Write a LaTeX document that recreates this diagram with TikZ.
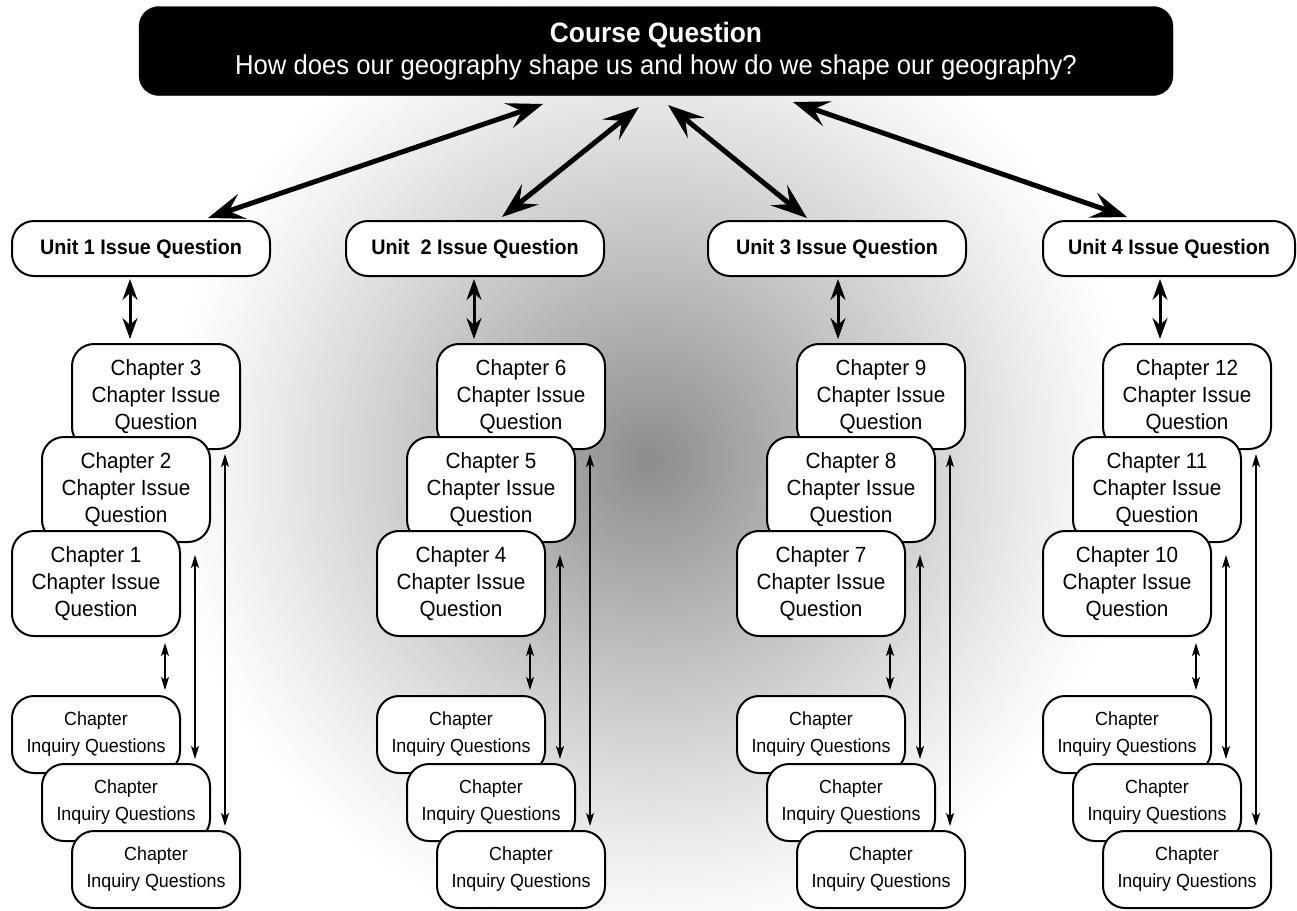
\documentclass[tikz,border=0pt]{standalone}
\usepackage{fontspec}
\setmainfont{Liberation Sans}[FakeStretch=0.94]
\usetikzlibrary{arrows.meta}
\tikzset{
  titlebox/.style={rectangle, rounded corners=20pt, fill=black, draw=black, text=white, minimum width=1034pt, minimum height=89pt, align=center, inner sep=0pt, font=\fontsize{27.3}{32}\selectfont},
  unitbox/.style={rectangle, rounded corners=22pt, fill=white, draw=black, line width=2pt, minimum height=55pt, align=center, inner sep=0pt, font=\fontsize{21}{25}\selectfont\bfseries},
  chbox/.style={rectangle, rounded corners=22pt, fill=white, draw=black, line width=2pt, minimum width=168pt, minimum height=105pt, align=center, inner sep=0pt, font=\fontsize{22}{27}\selectfont},
  iqbox/.style={rectangle, rounded corners=22pt, fill=white, draw=black, line width=2pt, minimum width=168pt, minimum height=77pt, align=center, inner sep=0pt, font=\fontsize{19}{27}\selectfont},
  bigarr/.style={line width=5pt, arrows={Stealth[length=36pt,width=26pt,inset=14pt]-Stealth[length=36pt,width=26pt,inset=14pt]}},
  unitarr/.style={line width=3pt, arrows={Stealth[length=21pt,width=15pt,inset=7pt]-Stealth[length=21pt,width=15pt,inset=7pt]}},
  thinarr/.style={line width=1.4pt, arrows={Stealth[length=13pt,width=8pt,inset=3pt]-Stealth[length=13pt,width=8pt,inset=3pt]}}
}
\begin{document}
\begin{tikzpicture}[x=1pt,y=-1pt]
\useasboundingbox (0,0) rectangle (1297,910);
\fill[white] (0,0) rectangle (1297,910);
\begin{scope}
  \clip (0,0) rectangle (1297,910);
  \foreach \r in {488,485,...,1}{
    \pgfmathsetmacro\g{45*(1-\r/490)^1.15}
    \fill[black!\g] (650,460) circle (\r pt);
  }
\end{scope}

% course question
\node[titlebox] (course) at (656,51) {{\fontsize{28}{32}\selectfont\bfseries Course Question}\\How does our geography shape us and how do we shape our geography?};

% unit questions
\node[unitbox, minimum width=258pt] (u1) at (141,248.5) {Unit 1 Issue Question};
\node[unitbox, minimum width=258pt] (u2) at (475,248.5) {Unit~\ 2 Issue Question};
\node[unitbox, minimum width=258pt] (u3) at (837,248.5) {Unit 3 Issue Question};
\node[unitbox, minimum width=252pt] (u4) at (1169,248.5) {Unit 4 Issue Question};

% thick arrows course <-> units
\coordinate (t1) at (543,104); \coordinate (b1) at (208,218);
\coordinate (t2) at (639,107); \coordinate (b2) at (502,217);
\coordinate (t3) at (668,105); \coordinate (b3) at (807,218);
\coordinate (t4) at (793,102); \coordinate (b4) at (1127,217);
\foreach \k in {1,2,3,4}{\draw[bigarr] (t\k) -- (b\k);}

% columns
\foreach \i/\o/\ux in {1/0/130, 2/365/474, 3/725/838, 4/1031/1160}{
  \pgfmathtruncatemacro\ca{3*\i}
  \pgfmathtruncatemacro\cb{3*\i-1}
  \pgfmathtruncatemacro\cc{3*\i-2}
  \node[chbox] (c\ca) at (\o+156,396.5) {Chapter \ca\\Chapter Issue\\Question};
  \node[chbox] (c\cb) at (\o+126,489.5) {Chapter \cb\\Chapter Issue\\Question};
  \node[chbox] (c\cc) at (\o+96,583.5) {Chapter \cc\\Chapter Issue\\Question};
  \node[iqbox] (q\i-1) at (\o+96,734.5) {Chapter\\Inquiry Questions};
  \node[iqbox] (q\i-2) at (\o+126,802.5) {Chapter\\Inquiry Questions};
  \node[iqbox] (q\i-3) at (\o+156,869.5) {Chapter\\Inquiry Questions};
  \coordinate (ux\i) at (\ux,0);
  \coordinate (sa\i) at (\o+165,0);
  \coordinate (aa\i) at (\o+195,0);
  \coordinate (ab\i) at (\o+225,0);
  \draw[unitarr, shorten <=2pt, shorten >=4pt] (u\i.south -| ux\i) -- (c\ca.north -| ux\i);
  \draw[thinarr, shorten <=6pt, shorten >=5pt] (c\cc.south -| sa\i) -- (q\i-1.north -| sa\i);
  \draw[thinarr, shorten <=12pt, shorten >=4pt] (c\cb.south -| aa\i) -- (q\i-2.north -| aa\i);
  \draw[thinarr, shorten <=4pt, shorten >=4pt] (c\ca.south -| ab\i) -- (q\i-3.north -| ab\i);
}
\end{tikzpicture}
\end{document}
